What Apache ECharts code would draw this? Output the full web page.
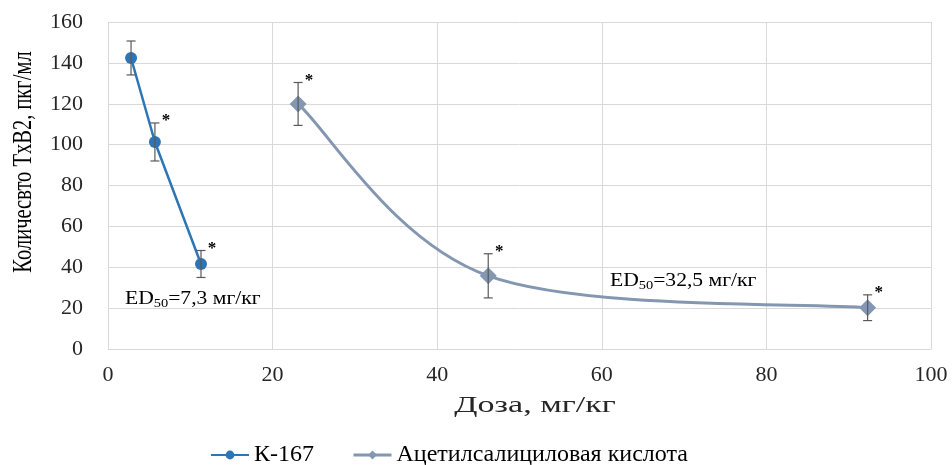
<!DOCTYPE html>
<html><head><meta charset="utf-8">
<script src="https://cdn.jsdelivr.net/npm/echarts@6/dist/echarts.min.js"></script>
<style>html,body{margin:0;padding:0;background:#fff}#c{width:952px;height:465px}</style>
</head><body><div id="c"></div>
<script>
const k167Dose = [2.8, 5.7, 11.3];
const k167Value = [142.4, 101.3, 41.6];
const k167Err = [8.3, 9.3, 6.6];
const k167Star = [false, true, true];

const asaDose = [23.1, 46.2, 92.3];
const asaValue = [119.9, 35.8, 20.2];
const asaErr = [10.5, 10.8, 6.3];
const asaStar = [true, true, true];

const xTicks = [0, 20, 40, 60, 80, 100];
const yTicks = [0, 20, 40, 60, 80, 100, 120, 140, 160];

const serif = '"Liberation Serif", "Times New Roman", serif';
const txt = '#262626';

function pts(xs, ys) { return xs.map((x, i) => [x, ys[i]]); }
function errData(xs, ys, es, st) { return xs.map((x, i) => [x, ys[i], es[i], st[i] ? 1 : 0]); }

function renderErr(params, api) {
  const x = api.value(0), y = api.value(1), e = api.value(2), s = api.value(3);
  const top = api.coord([x, y + e]);
  const bot = api.coord([x, y - e]);
  const cap = 4.5;
  const st = { stroke: '#595959', lineWidth: 1.2 };
  const children = [
    { type: 'line', shape: { x1: top[0], y1: top[1], x2: bot[0], y2: bot[1] }, style: st },
    { type: 'line', shape: { x1: top[0] - cap, y1: top[1], x2: top[0] + cap, y2: top[1] }, style: st },
    { type: 'line', shape: { x1: bot[0] - cap, y1: bot[1], x2: bot[0] + cap, y2: bot[1] }, style: st }
  ];
  if (s) {
    children.push({ type: 'text', x: top[0] + 11, y: top[1] - 2,
      style: { text: '*', font: 'bold 17px ' + serif, fill: '#000', align: 'center', verticalAlign: 'middle' } });
  }
  return { type: 'group', children: children };
}

// Excel-like smoothed curve through the data points (cubic Bezier, tension 1/6)
function renderSmooth(params, api) {
  const i = params.dataIndexInside, n = params.dataInsideLength;
  if (i >= n - 1) return null;
  const P = j => { j = Math.max(0, Math.min(n - 1, j)); return api.coord([api.value(0, j), api.value(1, j)]); };
  const p0 = P(i - 1), p1 = P(i), p2 = P(i + 1), p3 = P(i + 2);
  const t = 1 / 6;
  return {
    type: 'bezierCurve',
    shape: {
      x1: p1[0], y1: p1[1], x2: p2[0], y2: p2[1],
      cpx1: p1[0] + (p2[0] - p0[0]) * t, cpy1: p1[1] + (p2[1] - p0[1]) * t,
      cpx2: p2[0] - (p3[0] - p1[0]) * t, cpy2: p2[1] - (p3[1] - p1[1]) * t
    },
    style: { stroke: '#8497b0', lineWidth: 3, fill: null, lineCap: 'round' }
  };
}

function richLabel(main, rest) {
  return {
    text: '{n|' + main + '}{s|50}{n|' + rest + '}',
    rich: {
      n: { fontFamily: serif, fontSize: 18, color: '#000' },
      s: { fontFamily: serif, fontSize: 12, color: '#000', padding: [9, 0, 0, 0] }
    }
  };
}

const chart = echarts.init(document.getElementById('c'));
chart.setOption({
  animation: false,
  backgroundColor: '#fff',
  grid: { left: 108, right: 21, top: 22, bottom: 116 },
  xAxis: {
    type: 'value', min: xTicks[0], max: xTicks[xTicks.length - 1], interval: 20,
    axisLine: { show: true, lineStyle: { color: '#d9d9d9' } },
    axisTick: { show: false },
    axisLabel: { fontFamily: serif, fontSize: 22, color: txt, margin: 15 },
    splitLine: { show: true, lineStyle: { color: '#d9d9d9', width: 1 } }
  },
  yAxis: {
    type: 'value', min: yTicks[0], max: yTicks[yTicks.length - 1], interval: 20,
    axisLine: { show: false },
    axisTick: { show: false },
    axisLabel: { fontFamily: serif, fontSize: 22, color: txt, margin: 25 },
    splitLine: { show: true, lineStyle: { color: '#d9d9d9', width: 1 } }
  },
  legend: {
    data: [
      { name: 'К-167' },
      { name: 'Ацетилсалициловая кислота', lineStyle: { color: '#8497b0', width: 3, opacity: 1 } }
    ],
    top: 438, left: 205, padding: 5, itemWidth: 38, itemHeight: 11, itemGap: 38,
    textStyle: { fontFamily: serif, fontSize: 24, color: '#000' }
  },
  graphic: [
    { type: 'text', x: 24, y: 162, rotation: Math.PI / 2, scaleX: 1, scaleY: 1.35,
      style: { text: 'Количесвто TxB2, пкг/мл', font: '20.5px ' + serif, fill: '#000', align: 'center', verticalAlign: 'middle' } },
    { type: 'text', x: 535, y: 406, scaleX: 1.42, scaleY: 1,
      style: { text: 'Доза, мг/кг', font: '24px ' + serif, fill: txt, align: 'center', verticalAlign: 'middle' } },
    { type: 'text', x: 125, y: 289, scaleX: 1.2, style: richLabel('ED', '=7,3 мг/кг') },
    { type: 'text', x: 610, y: 271, scaleX: 1.2, style: richLabel('ED', '=32,5 мг/кг') }
  ],
  series: [
    { name: 'К-167', type: 'line', data: pts(k167Dose, k167Value),
      symbol: 'circle', symbolSize: 12, z: 3,
      itemStyle: { color: '#2e75b6' }, lineStyle: { color: '#2e75b6', width: 2.5 } },
    { name: 'Ацетилсалициловая кислота', type: 'line', data: pts(asaDose, asaValue),
      symbol: 'diamond', symbolSize: 17, z: 4,
      itemStyle: { color: '#8497b0' }, lineStyle: { color: '#8497b0', width: 3, opacity: 0 } },
    { name: 'curveA', type: 'custom', renderItem: renderSmooth, data: pts(asaDose, asaValue), z: 3, silent: true },
    { name: 'errK', type: 'custom', renderItem: renderErr, data: errData(k167Dose, k167Value, k167Err, k167Star), z: 5, silent: true },
    { name: 'errA', type: 'custom', renderItem: renderErr, data: errData(asaDose, asaValue, asaErr, asaStar), z: 5, silent: true }
  ]
});
</script></body></html>
